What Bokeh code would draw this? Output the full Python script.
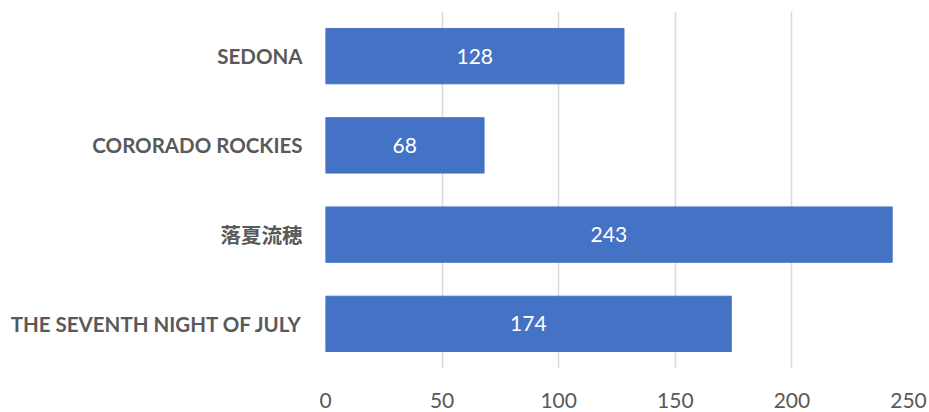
from bokeh.plotting import figure
from bokeh.models import ColumnDataSource, Range1d, FactorRange
from bokeh.core.properties import value
from bokeh.embed import file_html
from bokeh.resources import INLINE

categories = ["SEDONA", "CORORADO ROCKIES", "落夏流穂", "THE SEVENTH NIGHT OF JULY"]
counts = [128, 68, 243, 174]
x_ticks = [0, 50, 100, 150, 200, 250]

source = ColumnDataSource(dict(
    cat=categories,
    val=counts,
    mid=[v / 2 for v in counts],
    lab=[str(v) for v in counts],
))

p = figure(
    width=929, height=412,
    y_range=FactorRange(*list(reversed(categories))),
    x_range=Range1d(0, 250),
    output_backend="svg", toolbar_location=None,
    min_border_left=325, min_border_right=21, min_border_top=11, min_border_bottom=44,
)
p.outline_line_color = None
p.background_fill_color = "white"

p.hbar(y="cat", right="val", height=0.62, source=source,
       fill_color="#4472C4", line_color="#4472C4")

p.text(x="mid", y="cat", text="lab", source=source,
       text_align="center", text_baseline="middle",
       text_color="white", text_font=value("Lato"), text_font_size="21px")

p.xaxis.ticker = x_ticks
p.xaxis.axis_line_color = None
p.xaxis.major_tick_line_color = None
p.xaxis.minor_tick_line_color = None
p.xaxis.major_tick_out = 0
p.xaxis.major_label_standoff = 24
p.xaxis.major_label_text_line_height = 0.8
p.xaxis.major_label_text_font = "Lato"
p.xaxis.major_label_text_font_size = "21px"
p.xaxis.major_label_text_color = "#595959"

p.yaxis.axis_line_color = None
p.yaxis.major_tick_line_color = None
p.yaxis.minor_tick_line_color = None
p.yaxis.major_tick_out = 0
p.yaxis.major_label_standoff = 23
p.yaxis.major_label_text_font = "Lato, 'Noto Sans CJK JP'"
p.yaxis.major_label_text_font_size = "20.5px"
p.yaxis.major_label_text_font_style = "bold"
p.yaxis.major_label_text_color = "#595959"

p.ygrid.grid_line_color = None
p.xgrid.grid_line_color = "#D9D9D9"
p.xgrid.grid_line_width = 1.5

open("out.html", "w").write(file_html(p, INLINE))
